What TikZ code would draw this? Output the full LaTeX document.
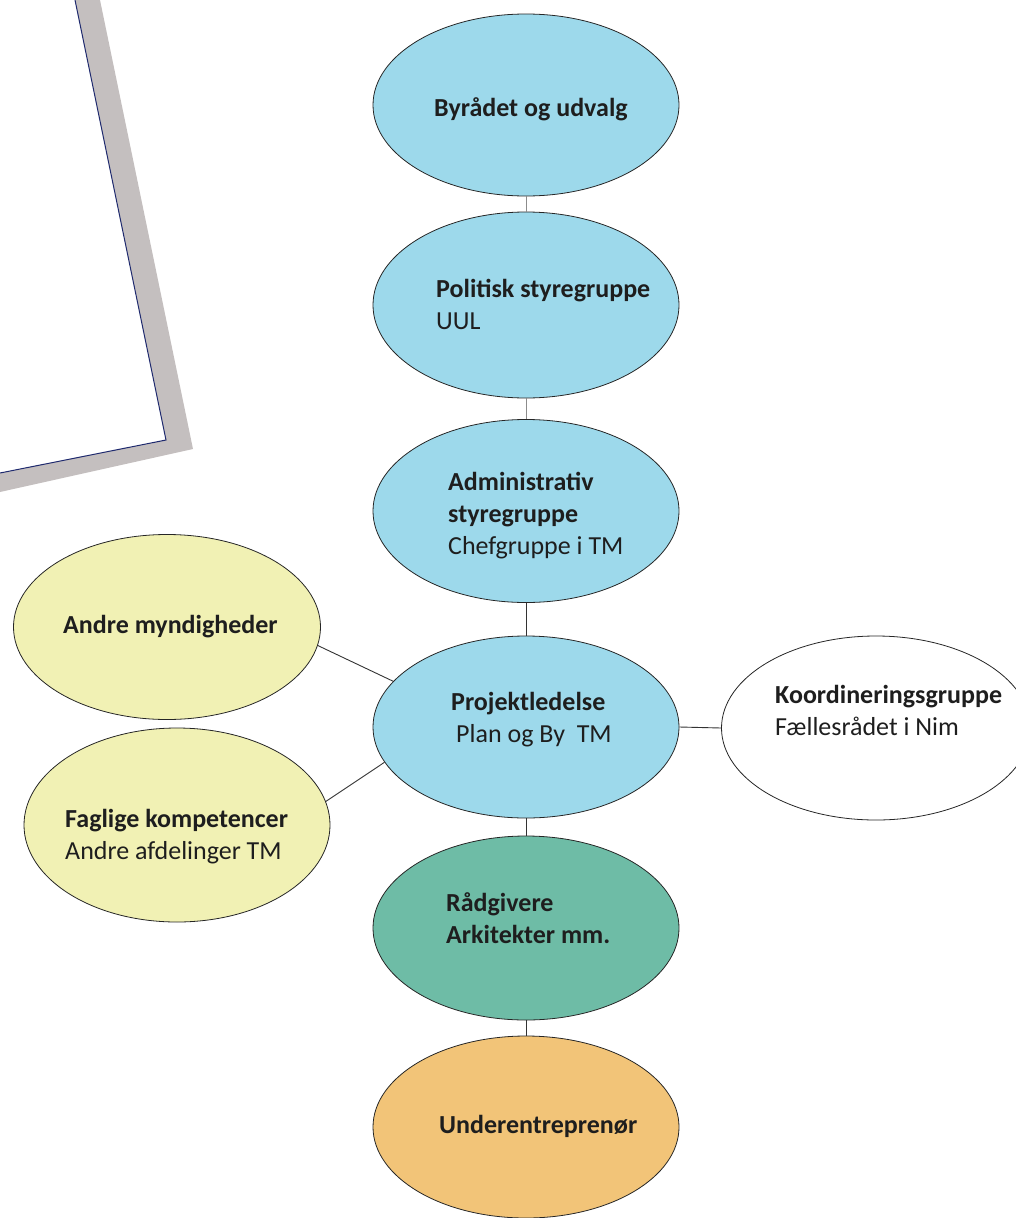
\documentclass[tikz,border=0pt]{standalone}
\usepackage{fontspec}
\setmainfont{Carlito}
\usetikzlibrary{shapes.geometric}
\definecolor{cblue}{RGB}{157,217,235}
\definecolor{cyel}{RGB}{241,241,180}
\definecolor{cteal}{RGB}{110,188,166}
\definecolor{corange}{RGB}{242,196,120}
\definecolor{cgrey}{RGB}{196,191,191}
\definecolor{cnavy}{RGB}{31,42,110}
\definecolor{ctext}{RGB}{30,30,30}
\tikzset{
  oval/.style={ellipse, draw=black!85, line width=0.8pt, inner sep=0pt},
  lab/.style={anchor=base west, inner sep=0pt, text=ctext, font=\fontsize{26}{32}\selectfont, align=left},
  thinlink/.style={draw=black!45, line width=0.6pt},
  link/.style={draw=black!80, line width=0.9pt}
}
\begin{document}
\begin{tikzpicture}[x=1pt,y=-1pt]
\useasboundingbox (0,0) rectangle (1016,1218);
% grey band frame
\fill[cgrey] (75,0) -- (100,0) -- (193,449) -- (0,492) -- (0,473) -- (166,440) -- cycle;
\draw[cnavy, line width=1pt] (75,0) -- (166,440) -- (0,473);
% ellipses
\node[oval, fill=cblue, minimum width=306pt, minimum height=182pt] (byr) at (526,105) {};
\node[oval, fill=cblue, minimum width=306pt, minimum height=186pt] (pol) at (526,305) {};
\node[oval, fill=cblue, minimum width=306pt, minimum height=183pt] (adm) at (526,511) {};
\node[oval, fill=cblue, minimum width=306pt, minimum height=182pt] (proj) at (526,727) {};
\node[oval, fill=cteal, minimum width=306pt, minimum height=184pt] (rad) at (526,928) {};
\node[oval, fill=corange, minimum width=306pt, minimum height=182pt] (under) at (526,1127) {};
\node[oval, fill=cyel, minimum width=307pt, minimum height=185pt] (andre) at (167,627) {};
\node[oval, fill=cyel, minimum width=306pt, minimum height=194pt] (fag) at (177,825) {};
\node[oval, fill=white, minimum width=309pt, minimum height=184pt] (koord) at (876,728) {};
% connectors
\draw[thinlink] (byr) -- (pol);
\draw[thinlink] (pol) -- (adm);
\draw[link] (adm) -- (proj);
\draw[link] (proj) -- (rad);
\draw[link] (rad) -- (under);
\draw[link] (andre.-7) -- (proj.161);
\draw[link] (fag.9) -- (proj.-166);
\draw[link] (proj.east) -- (koord.west);
% texts (anchor = baseline of the last line)
\node[lab] (t1) at (434,116) {\textbf{Byrådet og udvalg}};
\node[lab] (t2) at (436,329) {\textbf{Politisk styregruppe}\\UUL};
\node[lab] (t3) at (448,554) {\textbf{Administrativ}\\\textbf{styregruppe}\\Chefgruppe i TM};
\node[lab] (t4) at (63,633) {\textbf{Andre myndigheder}};
\node[lab] (t5) at (451,742) {\textbf{Projektledelse}\\\hspace*{5pt}Plan og By\ \ TM};
\node[lab] (t6) at (775,735) {\textbf{Koordineringsgruppe}\\Fællesrådet i Nim};
\node[lab] (t7) at (65,859) {\textbf{Faglige kompetencer}\\Andre afdelinger TM};
\node[lab] (t8) at (446,943) {\textbf{Rådgivere}\\\textbf{Arkitekter mm.}};
\node[lab] (t9) at (439,1133) {\textbf{Underentreprenør}};
\end{tikzpicture}
\end{document}
